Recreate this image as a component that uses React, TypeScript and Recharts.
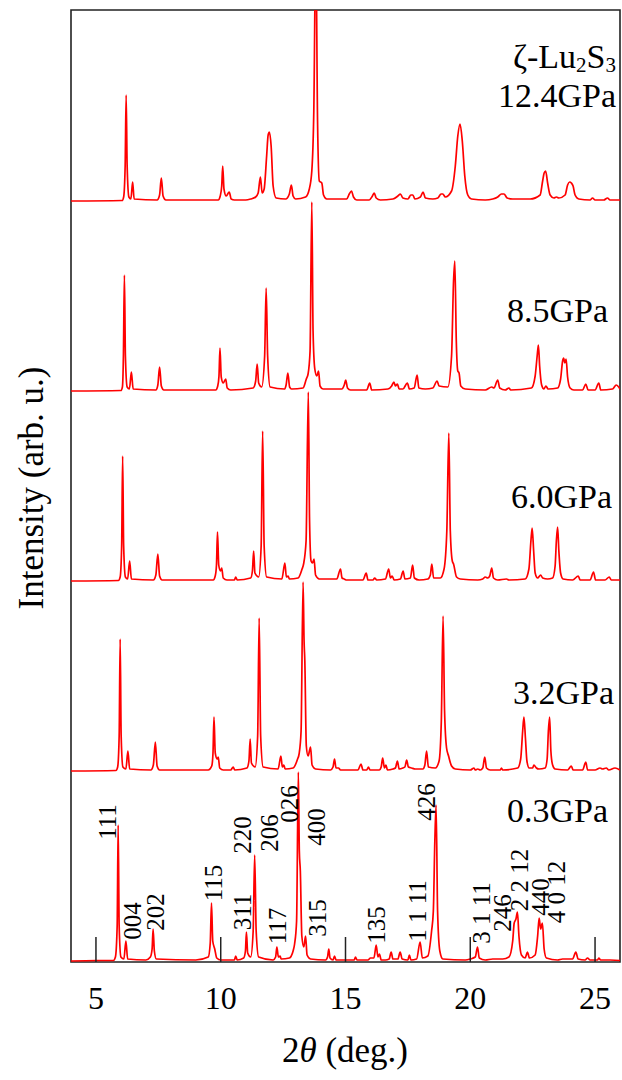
import { LineChart, Line, XAxis, YAxis, ReferenceArea, ReferenceDot } from "recharts";

// stacked XRD patterns of zeta-Lu2S3, 2theta (deg) vs intensity (arb. u.)
const TICKS_2THETA = [5, 10, 15, 20, 25];
const PRESSURES = ["0.3GPa", "3.2GPa", "6.0GPa", "8.5GPa", "12.4GPa"];
const OFFSETS = [0, 190, 380, 570, 760];

const p03: [number, number][] = [
  [4, 0], [5.0, 0.5], [5.7, 0.5],
  [5.78, 4], [5.85, 35], [5.89, 136], [5.93, 35], [6.0, 4],
  [6.12, 2], [6.2, 20], [6.27, 2],
  [7.0, 1], [7.18, 4], [7.25, 12], [7.29, 32], [7.34, 10], [7.42, 2],
  [9.0, 1], [9.5, 4], [9.58, 18], [9.63, 58], [9.68, 20], [9.76, 12], [9.84, 3],
  [10.0, 1], [10.55, 1], [10.6, 5], [10.66, 1],
  [10.92, 3], [10.99, 10], [11.03, 29], [11.08, 8], [11.2, 4], [11.3, 30], [11.36, 106], [11.42, 30], [11.52, 4],
  [12.1, 1], [12.2, 4], [12.25, 14], [12.31, 4], [12.38, 5], [12.42, 2],
  [12.75, 3], [12.9, 10], [12.96, 17], [13.04, 40], [13.11, 189], [13.15, 110], [13.19, 90], [13.25, 25], [13.33, 14], [13.4, 25], [13.46, 6], [13.6, 2],
  [14.2, 1], [14.28, 4], [14.33, 12], [14.38, 3], [14.5, 1], [14.56, 5], [14.62, 1],
  [15.35, 1], [15.4, 4], [15.46, 1],
  [15.9, 1], [16.0, 3], [16.14, 3], [16.23, 16], [16.3, 4], [16.36, 7], [16.43, 1],
  [16.6, 1], [16.75, 2], [16.83, 9], [16.9, 2], [17.1, 2], [17.19, 9], [17.27, 2], [17.5, 1], [17.56, 6], [17.62, 1],
  [17.85, 2], [17.99, 19], [18.08, 3], [18.3, 5], [18.45, 30], [18.52, 50], [18.58, 120], [18.63, 156], [18.69, 50], [18.78, 10], [18.9, 2],
  [19.8, 1], [20.0, 2], [20.2, 4], [20.29, 14], [20.36, 3],
  [20.6, 1], [20.9, 2], [21.3, 2], [21.55, 4], [21.7, 20], [21.76, 38], [21.83, 42], [21.89, 49], [21.95, 25], [22.05, 6], [22.2, 3], [22.29, 9], [22.37, 3],
  [22.6, 6], [22.7, 25], [22.76, 43], [22.82, 32], [22.89, 38], [22.96, 12], [23.05, 3],
  [23.5, 1], [23.7, 2], [24.1, 2], [24.23, 9], [24.32, 2], [24.6, 1], [24.7, 3], [24.8, 1], [25.1, 1], [25.15, 3], [25.22, 1], [25.6, 1], [26, 0.5],
];

const p32: [number, number][] = [
  [4, 0], [5.8, 0.5],
  [5.87, 4], [5.93, 35], [5.97, 132], [6.01, 35], [6.08, 4],
  [6.2, 2], [6.28, 20], [6.35, 2],
  [7.2, 1], [7.3, 6], [7.38, 29], [7.45, 5], [7.55, 1],
  [9.5, 1], [9.64, 5], [9.69, 18], [9.73, 54], [9.78, 18], [9.86, 12], [9.9, 14], [9.96, 3], [10.1, 1],
  [10.4, 1], [10.5, 4], [10.56, 1],
  [11.05, 3], [11.13, 10], [11.18, 32], [11.23, 8], [11.38, 4], [11.48, 35], [11.54, 153], [11.6, 35], [11.7, 4],
  [12.3, 2], [12.41, 15], [12.47, 4], [12.53, 6], [12.58, 2],
  [12.9, 3], [13.08, 12], [13.14, 17], [13.22, 40], [13.3, 189], [13.34, 130], [13.37, 110], [13.43, 25], [13.5, 15], [13.6, 24], [13.66, 6], [13.8, 2],
  [14.4, 1], [14.5, 4], [14.56, 12], [14.62, 3], [14.72, 3], [14.8, 1],
  [15.5, 1], [15.62, 7], [15.7, 1], [15.85, 1], [15.92, 4], [15.98, 1],
  [16.35, 1], [16.43, 4], [16.49, 13], [16.56, 3], [16.62, 6], [16.68, 1], [16.9, 2], [17.0, 3], [17.08, 10], [17.15, 2],
  [17.3, 3], [17.38, 4], [17.45, 11], [17.52, 4], [17.65, 3], [17.8, 2],
  [18.1, 2], [18.18, 6], [18.25, 20], [18.32, 4], [18.6, 3], [18.75, 10], [18.84, 50], [18.91, 155], [18.97, 60], [19.05, 23], [19.13, 15], [19.25, 5], [19.4, 2],
  [20.0, 1], [20.15, 3], [20.2, 1], [20.3, 2], [20.4, 1], [20.5, 3], [20.58, 14], [20.65, 3], [20.8, 1], [21.2, 1], [21.25, 3], [21.3, 1],
  [21.9, 3], [22.02, 12], [22.1, 40], [22.15, 54], [22.21, 33], [22.27, 10], [22.36, 3], [22.5, 3], [22.55, 6], [22.65, 3], [22.75, 2],
  [23.0, 3], [23.08, 12], [23.13, 40], [23.18, 54], [23.23, 20], [23.3, 6], [23.4, 2],
  [23.9, 1], [24.05, 5], [24.12, 1], [24.5, 1], [24.63, 9], [24.7, 1], [25.0, 1], [25.2, 3], [25.3, 2], [25.45, 3], [25.55, 1], [25.8, 3], [26, 1],
];

const p60: [number, number][] = [
  [4, 0], [5.9, 0.5],
  [5.97, 4], [6.03, 35], [6.07, 125], [6.11, 35], [6.18, 4],
  [6.27, 2], [6.35, 20], [6.42, 2],
  [7.3, 1], [7.4, 6], [7.48, 27], [7.55, 5], [7.65, 1],
  [9.7, 1], [9.78, 5], [9.83, 16], [9.87, 49], [9.92, 16], [9.99, 10], [10.04, 13], [10.1, 3], [10.25, 1],
  [10.55, 1], [10.6, 4], [10.66, 1],
  [11.2, 3], [11.27, 10], [11.32, 30], [11.37, 8], [11.52, 4], [11.62, 35], [11.68, 150], [11.74, 35], [11.84, 4],
  [12.45, 2], [12.57, 18], [12.63, 4], [12.7, 5], [12.75, 2],
  [13.1, 3], [13.26, 12], [13.32, 17], [13.42, 40], [13.51, 189], [13.56, 60], [13.62, 20], [13.68, 18], [13.74, 22], [13.8, 6], [13.95, 2],
  [14.65, 2], [14.8, 12], [14.86, 3], [14.95, 2], [15.05, 1],
  [15.7, 1], [15.83, 8], [15.9, 1], [16.1, 1], [16.17, 3], [16.25, 1],
  [16.6, 2], [16.73, 12], [16.8, 3], [16.87, 5], [16.95, 1], [17.2, 2], [17.31, 10], [17.38, 2], [17.6, 3], [17.69, 16], [17.76, 3], [17.95, 1],
  [18.3, 2], [18.4, 6], [18.46, 17], [18.53, 3], [18.8, 3], [18.95, 12], [19.06, 50], [19.14, 148], [19.2, 50], [19.28, 20], [19.33, 17], [19.45, 4], [19.6, 2],
  [20.3, 1], [20.5, 2], [20.6, 4], [20.7, 3], [20.78, 5], [20.86, 13], [20.93, 3], [21.1, 1], [21.45, 2], [21.55, 1],
  [22.2, 2], [22.35, 12], [22.43, 40], [22.48, 53], [22.54, 30], [22.6, 8], [22.7, 3], [22.82, 6], [22.9, 3], [23.1, 2],
  [23.3, 3], [23.4, 15], [23.45, 40], [23.5, 54], [23.55, 30], [23.62, 8], [23.72, 2],
  [24.1, 1], [24.33, 5], [24.4, 1], [24.8, 1], [24.94, 9], [25.02, 1], [25.4, 1], [25.57, 4], [25.65, 1], [26, 1],
];

const p85: [number, number][] = [
  [4, 0], [6.0, 0.5],
  [6.06, 4], [6.1, 35], [6.14, 116], [6.18, 35], [6.25, 4],
  [6.34, 2], [6.42, 19], [6.49, 2],
  [7.4, 1], [7.48, 6], [7.55, 24], [7.62, 5], [7.72, 1],
  [9.8, 1], [9.88, 5], [9.93, 15], [9.97, 43], [10.02, 14], [10.1, 8], [10.2, 12], [10.26, 3], [10.4, 1],
  [11.3, 3], [11.4, 10], [11.46, 27], [11.52, 8], [11.64, 4], [11.76, 35], [11.82, 103], [11.88, 35], [11.98, 4],
  [12.55, 2], [12.62, 6], [12.69, 18], [12.76, 4], [12.84, 2],
  [13.3, 3], [13.43, 12], [13.5, 17], [13.58, 40], [13.65, 189], [13.7, 60], [13.77, 22], [13.85, 15], [13.92, 20], [13.98, 5], [14.1, 2],
  [14.85, 2], [14.95, 6], [15.01, 11], [15.08, 3], [15.2, 1],
  [15.85, 1], [15.97, 8], [16.05, 1],
  [16.7, 2], [16.85, 5], [16.94, 9], [17.0, 5], [17.08, 7], [17.15, 2], [17.3, 2], [17.48, 8], [17.56, 2], [17.75, 3], [17.87, 16], [17.94, 3], [18.2, 2],
  [18.5, 3], [18.67, 10], [18.75, 5], [19.1, 4], [19.25, 35], [19.33, 110], [19.38, 130], [19.44, 50], [19.5, 20], [19.55, 18], [19.62, 5], [19.8, 2],
  [20.6, 1], [20.86, 4], [20.95, 3], [21.1, 11], [21.18, 3], [21.4, 1], [21.55, 3], [21.62, 1],
  [22.45, 3], [22.6, 15], [22.68, 35], [22.73, 46], [22.78, 25], [22.86, 6], [22.95, 2], [23.03, 5], [23.12, 2],
  [23.5, 3], [23.62, 12], [23.7, 30], [23.74, 33], [23.79, 28], [23.84, 32], [23.9, 14], [24.0, 3], [24.15, 1],
  [24.5, 1], [24.63, 7], [24.72, 1], [25.0, 1], [25.15, 8], [25.23, 1], [25.7, 2], [25.85, 6], [26, 2],
];

const p124: [number, number][] = [
  [4, 0], [6.05, 0.5],
  [6.11, 4], [6.17, 35], [6.21, 106], [6.25, 35], [6.32, 4],
  [6.4, 2], [6.47, 19], [6.53, 2],
  [7.45, 1], [7.55, 6], [7.62, 23], [7.69, 5], [7.8, 1],
  [9.9, 1], [9.98, 5], [10.04, 15], [10.08, 35], [10.13, 12], [10.22, 5], [10.34, 9], [10.42, 2], [10.55, 1],
  [11.0, 1], [11.2, 2], [11.4, 4], [11.5, 8], [11.59, 24], [11.66, 8], [11.74, 12], [11.84, 45], [11.9, 66], [11.95, 69], [12.02, 55], [12.1, 15], [12.22, 3],
  [12.6, 2], [12.75, 7], [12.83, 16], [12.9, 5], [13.0, 2],
  [13.4, 4], [13.55, 12], [13.65, 30], [13.73, 90], [13.81, 260], [13.88, 80], [13.95, 20], [14.05, 18], [14.12, 6], [14.25, 2],
  [15.05, 2], [15.15, 7], [15.24, 10], [15.32, 4], [15.45, 1],
  [15.95, 1], [16.08, 5], [16.15, 8], [16.23, 3], [16.4, 1],
  [16.9, 2], [17.1, 5], [17.2, 7], [17.3, 3], [17.5, 2], [17.62, 6], [17.7, 6], [17.78, 2], [18.0, 4], [18.11, 9], [18.2, 3], [18.5, 2],
  [18.7, 3], [18.83, 7], [18.9, 7], [19.0, 4], [19.25, 10], [19.4, 35], [19.5, 65], [19.59, 77], [19.68, 60], [19.78, 25], [19.9, 6], [20.05, 2],
  [20.6, 1], [20.9, 2], [21.1, 4], [21.25, 7], [21.35, 7], [21.48, 3], [21.7, 2],
  [22.4, 2], [22.8, 6], [22.9, 20], [22.96, 28], [23.02, 30], [23.1, 18], [23.2, 6], [23.35, 3], [23.45, 4], [23.55, 3],
  [23.8, 6], [23.9, 16], [23.98, 19], [24.05, 18], [24.12, 15], [24.2, 6], [24.35, 2],
  [24.8, 1], [24.9, 3], [25.0, 1], [25.35, 1], [25.5, 3], [25.6, 1], [26, 1],
];

const PATTERNS = [p03, p32, p60, p85, p124];

// Miller indices marked on the 0.3GPa pattern
const HKL = ["111", "004", "202", "115", "311", "220", "206", "117", "026", "400", "315",
  "135", "1 1 11", "426", "3 1 11", "246", "2 2 12", "440", "4 0 12"];
const HKL_2THETA = [5.44, 6.44, 7.36, 9.68, 10.84, 10.84, 11.92, 12.28, 12.76, 13.84, 13.88,
  16.24, 17.88, 18.24, 20.44, 21.28, 21.96, 22.8, 23.44];
const HKL_LEVEL = [139, 40, 49, 78, 49, 126, 128, 35, 157, 134, 43,
  36, 50, 159, 48, 48, 81, 64, 69];

const FONT = "'Liberation Serif', 'Times New Roman', serif";
const RED = "#ff0000";
const FRAME = "#222";

// eslint-disable-next-line @typescript-eslint/no-explicit-any
function BottomTick({ x, y, payload }: any) {
  return (
    <g>
      <line x1={x} x2={x} y1={y} y2={y - 25} stroke={FRAME} strokeWidth={1.5} />
      <text x={x} y={y + 47} textAnchor="middle" fontSize={32} style={{ fontFamily: FONT }} fill="#000">
        {payload.value}
      </text>
    </g>
  );
}

export default function App() {
  const series = PATTERNS.map((pts, i) => pts.map(([x, y]) => ({ x, y: y + OFFSETS[i] })));

  return (
    <div style={{ position: "absolute", left: 0, top: 0, width: 622, height: 1080, background: "#fff" }}>
      <LineChart width={622} height={1080} margin={{ top: 10, right: 2, bottom: 88, left: 71 }}>
        <XAxis
          dataKey="x"
          type="number"
          domain={[4, 26]}
          ticks={TICKS_2THETA}
          allowDataOverflow
          height={30}
          axisLine={false}
          tickLine={false}
          tickSize={0}
          tickMargin={0}
          tick={<BottomTick />}
        />
        <YAxis type="number" dataKey="y" domain={[-1, 951]} allowDataOverflow hide />
        {series.map((d, i) => (
          <Line
            key={PRESSURES[i]}
            data={d}
            dataKey="y"
            type="monotone"
            stroke={RED}
            strokeWidth={1.7}
            dot={false}
            activeDot={false}
            isAnimationActive={false}
          />
        ))}
        <ReferenceArea x1={4} x2={26} y1={-1} y2={951} fill="none" stroke={FRAME} strokeWidth={1.6} ifOverflow="visible" />
        {HKL.map((t, i) => (
          <ReferenceDot
            key={t + i}
            x={HKL_2THETA[i]}
            y={HKL_LEVEL[i]}
            r={1}
            fill="none"
            stroke="none"
            label={{ value: t, angle: -90, position: "center", fontSize: 25, fill: "#000", fontFamily: FONT, style: { fontFamily: FONT } }}
          />
        ))}
      </LineChart>
      <svg
        width={622}
        height={1080}
        style={{ position: "absolute", left: 0, top: 0, pointerEvents: "none", fontFamily: FONT }}
        fill="#000"
      >
        <text x={616} y={68} textAnchor="end" fontSize={34}>
          ζ-Lu<tspan fontSize={21} dy={4}>2</tspan>
          <tspan dy={-4}>S</tspan>
          <tspan fontSize={21} dy={4}>3</tspan>
        </text>
        <text x={616} y={107} textAnchor="end" fontSize={34}>{PRESSURES[4]}</text>
        <text x={608} y={322} textAnchor="end" fontSize={34}>{PRESSURES[3]}</text>
        <text x={612} y={508} textAnchor="end" fontSize={34}>{PRESSURES[2]}</text>
        <text x={614} y={704} textAnchor="end" fontSize={34}>{PRESSURES[1]}</text>
        <text x={608} y={822} textAnchor="end" fontSize={34}>{PRESSURES[0]}</text>
        <text transform="translate(43,488) rotate(-90)" textAnchor="middle" fontSize={35}>
          Intensity (arb. u.)
        </text>
        <text x={345} y={1062} textAnchor="middle" fontSize={35}>
          2<tspan fontStyle="italic">θ</tspan> (deg.)
        </text>
      </svg>
    </div>
  );
}
